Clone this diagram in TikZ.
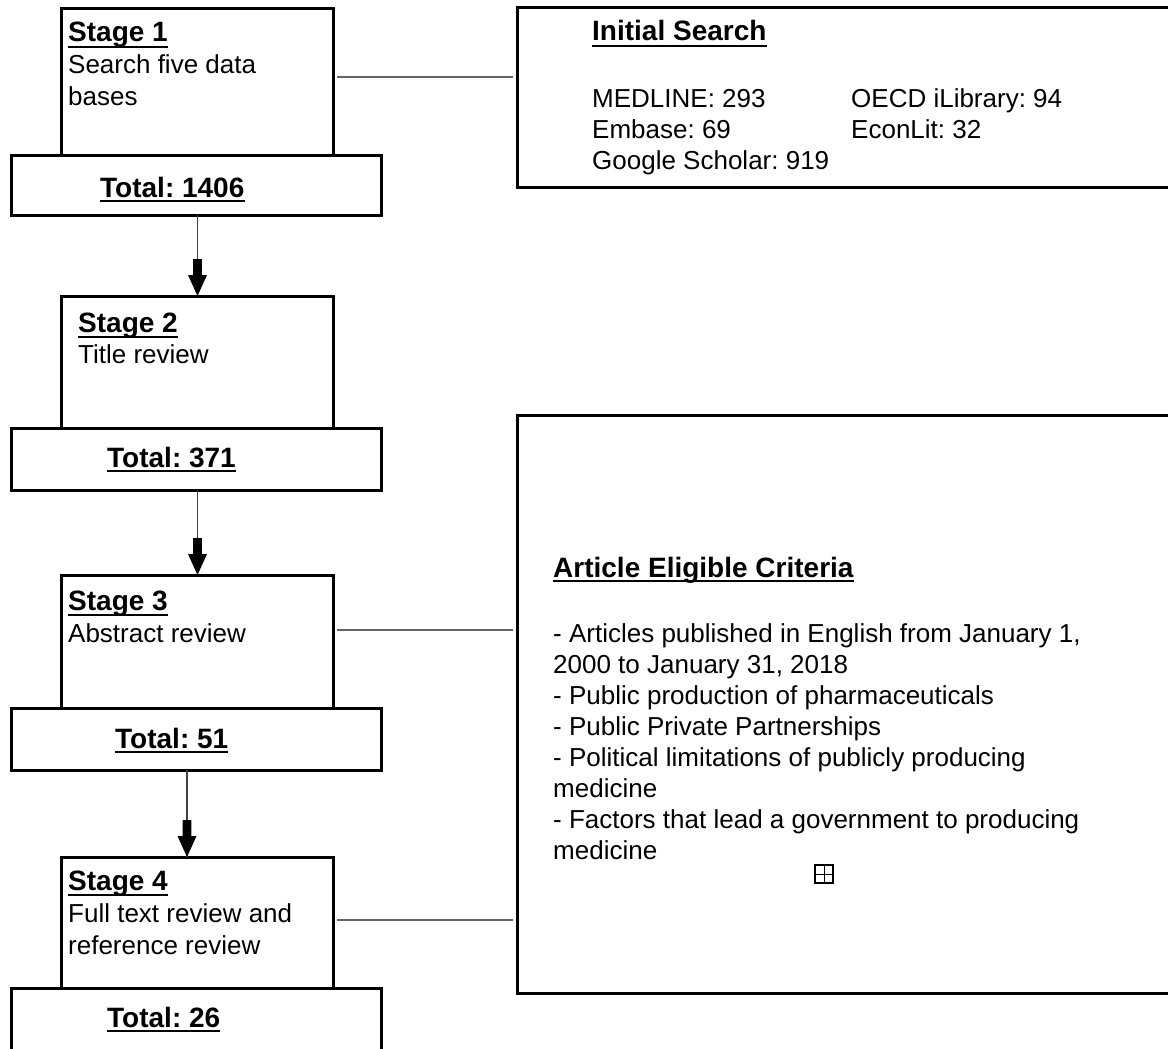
\documentclass[tikz,border=0pt]{standalone}
\usepackage{fontspec}
\setmainfont{Liberation Sans}
\usetikzlibrary{shadows,calc}
\frenchspacing
\begin{document}
\begin{tikzpicture}[x=1pt,y=-1pt,
  box/.style={draw=black, line width=3pt, fill=white, anchor=north west, inner sep=0, outer sep=0,
    drop shadow={shadow xshift=1.5pt, shadow yshift=-1.5pt, opacity=.3}},
  hd/.style={anchor=base west, inner sep=0, font=\fontsize{28}{34}\selectfont\bfseries},
  bd/.style={anchor=base west, inner sep=0, font=\fontsize{26}{32}\selectfont},
  bdr/.style={anchor=base west, inner sep=0, font=\fontsize{26}{31.3}\selectfont},
  uline/.style={line width=2pt, black},
  link/.style={draw=black!60, line width=1.2pt, shorten <=4pt, shorten >=4pt},
  flow/.style={draw=black!75, line width=1.4pt},
  blockhead/.pic={\fill[black] (-4.3,-37) -- (4.3,-37) -- (4.3,-21) -- (9.5,-21) -- (0,0) -- (-9.5,-21) -- (-4.3,-21) -- cycle;}
]
\useasboundingbox (0,0) rectangle (1168,1049);
\fill[white] (0,0) rectangle (1168,1049);
\clip (0,0) rectangle (1168,1049);

% stage boxes
\node[box, minimum width=272pt, minimum height=146pt] (s1) at (61,9) {};
\node[box, minimum width=370pt, minimum height=60pt] (tot1) at (11,155) {};
\node[box, minimum width=272pt, minimum height=132pt] (s2) at (61,296) {};
\node[box, minimum width=370pt, minimum height=62pt] (tot2) at (11,428) {};
\node[box, minimum width=272pt, minimum height=133pt] (s3) at (61,575) {};
\node[box, minimum width=370pt, minimum height=62pt] (tot3) at (11,708) {};
\node[box, minimum width=272pt, minimum height=131pt] (s4) at (61,857) {};
\node[box, minimum width=370pt, minimum height=70pt] (tot4) at (11,988) {};

% right boxes
\node[box, minimum width=700pt, minimum height=179pt] (init) at (517,8) {};
\node[box, minimum width=700pt, minimum height=578pt] (crit) at (517,415) {};

% stage texts
\node[hd] (h1) at (68,42) {Stage 1};
\node[bd] (b1) at (68,74) {\begin{tabular}[t]{@{}l@{}}Search five data\\bases\end{tabular}};
\node[hd] (h2) at (78,332) {Stage 2};
\node[bd] (b2) at (78,363) {Title review};
\node[hd] (h3) at (68,610) {Stage 3};
\node[bd] (b3) at (68,642) {Abstract review};
\node[hd] (h4) at (68,890) {Stage 4};
\node[bd] (b4) at (68,922) {\begin{tabular}[t]{@{}l@{}}Full text review and\\reference review\end{tabular}};

\foreach \n in {h1,h2,h3,h4}{
  \draw[uline] ([yshift=-5pt]\n.base west) -- ([yshift=-5pt]\n.base east);
}

% totals
\node[hd] (t1) at (100,197) {Total: 1406};
\node[hd] (t2) at (107,467) {Total: 371};
\node[hd] (t3) at (115,748) {Total: 51};
\node[hd] (t4) at (107,1027) {Total: 26};
\foreach \n in {t1,t2,t3,t4}{
  \draw[uline] ([yshift=-4pt]\n.base west) -- ([yshift=-4pt]\n.base east);
}

% initial search text
\node[hd] (ih) at (592,41) {Initial Search};
\draw[uline] ([yshift=-5pt]ih.base west) -- ([yshift=-5pt]ih.base east);
\node[bdr] (ic1) at (592,107) {\begin{tabular}[t]{@{}l@{}}MEDLINE: 293\\Embase: 69\\Google Scholar: 919\end{tabular}};
\node[bdr] (ic2) at (851,107) {\begin{tabular}[t]{@{}l@{}}OECD iLibrary: 94\\EconLit: 32\end{tabular}};

% criteria text
\node[hd] (ch) at (553,577) {Article Eligible Criteria};
\draw[uline] ([yshift=-4pt]ch.base west) -- ([yshift=-4pt]ch.base east);
\node[anchor=base west, inner sep=0, font=\fontsize{26}{31}\selectfont] (cb) at (553,642) {\begin{tabular}[t]{@{}l@{}}
- Articles published in English from January 1,\\
2000 to January 31, 2018\\
- Public production of pharmaceuticals\\
- Public Private Partnerships\\
- Political limitations of publicly producing\\
medicine\\
- Factors that lead a government to producing\\
medicine\end{tabular}};

% small expand icon
\node[draw=black, line width=1.1pt, minimum size=18pt, inner sep=0] (plus) at (824,874) {};
\draw[line width=1pt] (plus.north) -- (plus.south);
\draw[line width=1pt] (plus.west) -- (plus.east);

% side links
\coordinate (y1) at (0,77);
\coordinate (y3) at (0,630);
\coordinate (y4) at (0,920);
\draw[link] (s1.east |- y1) -- (init.west |- y1);
\draw[link] (s3.east |- y3) -- (crit.west |- y3);
\draw[link] (s4.east |- y4) -- (crit.west |- y4);

% flow arrows
\coordinate (ax1) at (197.5,0);
\coordinate (ax2) at (197.5,0);
\coordinate (ax3) at (187,0);
\draw[flow] (tot1.south -| ax1) -- (s2.north -| ax1);
\pic at (s2.north -| ax1) {blockhead};
\draw[flow] (tot2.south -| ax2) -- (s3.north -| ax2);
\pic at (s3.north -| ax2) {blockhead};
\draw[flow] (tot3.south -| ax3) -- (s4.north -| ax3);
\pic at (s4.north -| ax3) {blockhead};
\end{tikzpicture}
\end{document}
